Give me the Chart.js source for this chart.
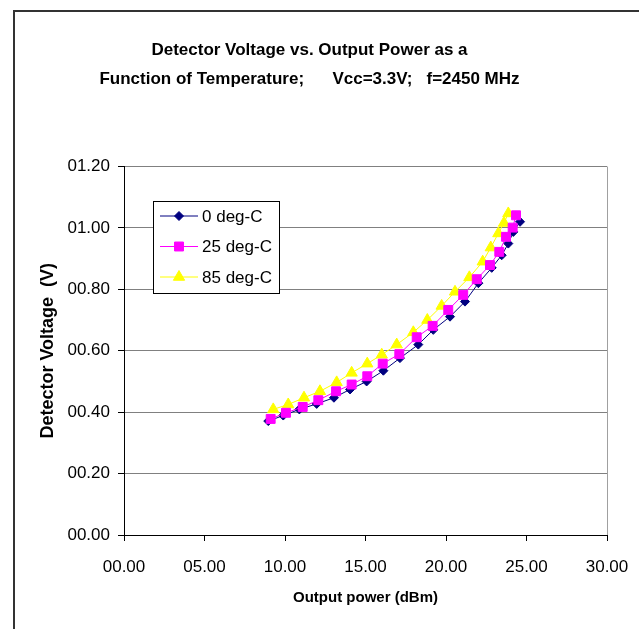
<!DOCTYPE html>
<html>
<head>
<meta charset="utf-8">
<script src="https://cdn.jsdelivr.net/npm/chart.js@4.4.1/dist/chart.umd.min.js"></script>
<style>
  html, body { margin: 0; padding: 0; background: #fff; }
  #wrap { width: 639px; height: 629px; }
</style>
</head>
<body>
<div id="wrap"><canvas id="chart" width="639" height="629"></canvas></div>
<script>
// --- Data ---
const seriesNames = ['0 deg-C', '25 deg-C', '85 deg-C'];

const power0 = [8.96, 9.89, 10.89, 11.97, 13.04, 14.04, 15.07, 16.11, 17.14, 18.28, 19.21, 20.25, 21.18, 22.01, 22.84, 23.46, 23.87, 24.18, 24.6];
const volt0  = [0.371, 0.389, 0.409, 0.427, 0.447, 0.474, 0.500, 0.535, 0.576, 0.620, 0.668, 0.711, 0.760, 0.820, 0.870, 0.911, 0.949, 0.987, 1.020];

const power25 = [9.11, 10.06, 11.1, 12.07, 13.17, 14.14, 15.11, 16.07, 17.1, 18.18, 19.17, 20.14, 21.07, 21.91, 22.73, 23.31, 23.73, 24.14, 24.35];
const volt25  = [0.378, 0.398, 0.417, 0.439, 0.468, 0.490, 0.517, 0.558, 0.589, 0.644, 0.681, 0.733, 0.782, 0.833, 0.879, 0.922, 0.971, 1.001, 1.041];

const power85 = [9.27, 10.2, 11.18, 12.17, 13.21, 14.14, 15.11, 16.01, 16.94, 17.97, 18.84, 19.73, 20.56, 21.45, 22.28, 22.78, 23.25, 23.6, 23.87];
const volt85  = [0.409, 0.425, 0.447, 0.468, 0.497, 0.528, 0.558, 0.587, 0.620, 0.660, 0.700, 0.746, 0.792, 0.839, 0.890, 0.936, 0.982, 1.016, 1.047];

const xTickLabels = ['00.00', '05.00', '10.00', '15.00', '20.00', '25.00', '30.00'];
const yTickLabels = ['00.00', '00.20', '00.40', '00.60', '00.80', '01.00', '01.20'];

const FONT = "Arial, 'Liberation Sans', sans-serif";

function toPoints(xs, ys) {
    return xs.map((x, i) => ({ x: x, y: ys[i] }));
}

// outer frame of the chart object (clipped at right and bottom)
const framePlugin = {
    id: 'frame',
    beforeDraw(chart) {
        const c = chart.ctx;
        c.save();
        c.fillStyle = '#fff';
        c.fillRect(0, 0, chart.width, chart.height);
        c.strokeStyle = '#333';
        c.lineWidth = 2;
        c.beginPath();
        c.moveTo(14, chart.height);
        c.lineTo(14, 11);
        c.lineTo(chart.width, 11);
        c.stroke();
        c.restore();
    }
};

// boxed legend sitting inside the plot area
const boxLegend = {
    id: 'boxLegend',
    afterDraw(chart) {
        const c = chart.ctx;
        const bx = 153, by = 201, bw = 126, bh = 92, rowH = 30.5;
        c.save();
        c.fillStyle = '#fff';
        c.fillRect(bx, by, bw, bh);
        c.strokeStyle = '#000';
        c.lineWidth = 1;
        c.strokeRect(bx + 0.5, by + 0.5, bw, bh);
        chart.data.datasets.forEach((ds, i) => {
            const y = by + 15 + i * rowH;
            c.strokeStyle = ds.borderColor;
            c.lineWidth = 1;
            c.beginPath();
            c.moveTo(bx + 7, y);
            c.lineTo(bx + 45, y);
            c.stroke();
            c.fillStyle = ds.pointBackgroundColor;
            c.strokeStyle = ds.pointBorderColor;
            Chart.helpers.drawPoint(c, {
                pointStyle: ds.pointStyle,
                radius: ds.pointRadius,
                rotation: 0,
                borderWidth: 1
            }, bx + 26, y);
            c.fillStyle = '#000';
            c.font = '17px ' + FONT;
            c.textAlign = 'left';
            c.textBaseline = 'middle';
            c.fillText(ds.label, bx + 49, y + 1);
        });
        c.restore();
    }
};

const ctx = document.getElementById('chart').getContext('2d');

new Chart(ctx, {
    type: 'line',
    data: {
        datasets: [
            {
                label: seriesNames[0],
                data: toPoints(power0, volt0),
                borderColor: '#000080',
                pointBackgroundColor: '#000080',
                pointBorderColor: '#000080',
                pointStyle: 'rectRot',
                pointRadius: 4.5,
                borderWidth: 1,
                order: 1
            },
            {
                label: seriesNames[1],
                data: toPoints(power25, volt25),
                borderColor: '#ff00ff',
                pointBackgroundColor: '#ff00ff',
                pointBorderColor: '#ff00ff',
                pointStyle: 'rect',
                pointRadius: 6.3,
                borderWidth: 1,
                order: 0
            },
            {
                label: seriesNames[2],
                data: toPoints(power85, volt85),
                borderColor: '#ffff00',
                pointBackgroundColor: '#ffff00',
                pointBorderColor: '#ffff00',
                pointStyle: 'triangle',
                pointRadius: 6.5,
                borderWidth: 1,
                order: 2
            }
        ]
    },
    options: {
        responsive: false,
        animation: false,
        layout: { padding: { left: 12, right: 32, top: 0, bottom: 0 } },
        elements: { line: { tension: 0, fill: false } },
        plugins: {
            legend: { display: false },
            tooltip: { enabled: false },
            title: {
                display: true,
                text: ['Detector Voltage vs. Output Power as a', 'Function of Temperature;      Vcc=3.3V;   f=2450 MHz'],
                color: '#000',
                font: { family: FONT, size: 17, weight: 'bold', lineHeight: 1.75 },
                padding: { top: 35, bottom: 72 }
            }
        },
        scales: {
            x: {
                type: 'linear',
                min: 0,
                max: 30,
                afterFit(scale) {
                    scale.height = 94;
                    // keep the end labels from shrinking the plot area
                    scale.paddingLeft = 0;
                    scale.paddingRight = 0;
                },
                ticks: {
                    stepSize: 5,
                    color: '#000',
                    padding: 16,
                    maxRotation: 0,
                    font: { family: FONT, size: 17 },
                    callback: (value, index) => xTickLabels[index]
                },
                grid: {
                    drawOnChartArea: true,
                    color: (c) => (c.tick && c.tick.value === 30) ? '#a0a0a0' : 'rgba(0,0,0,0)',
                    tickColor: '#000',
                    tickLength: 6
                },
                border: { color: '#000', width: 1 },
                title: {
                    display: true,
                    text: 'Output power (dBm)',
                    color: '#000',
                    font: { family: FONT, size: 15, weight: 'bold' },
                    padding: { top: 0, bottom: 22 }
                }
            },
            y: {
                min: 0,
                max: 1.2,
                afterFit(scale) { scale.width = 112; },
                ticks: {
                    stepSize: 0.2,
                    color: '#000',
                    padding: 8,
                    font: { family: FONT, size: 17 },
                    callback: (value, index) => yTickLabels[index]
                },
                grid: {
                    color: '#808080',
                    tickColor: '#000',
                    tickLength: 6
                },
                border: { color: '#000', width: 1 },
                title: {
                    display: true,
                    text: 'Detector Voltage  (V)',
                    color: '#000',
                    font: { family: FONT, size: 18, weight: 'bold' },
                    padding: { top: 25, bottom: 0 }
                }
            }
        }
    },
    plugins: [framePlugin, boxLegend]
});
</script>
</body>
</html>
